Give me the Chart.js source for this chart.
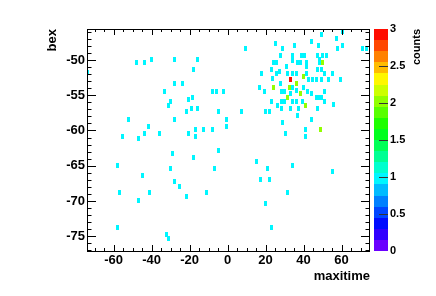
<!DOCTYPE html>
<html>
<head>
<meta charset="utf-8">
<script src="https://cdn.jsdelivr.net/npm/chart.js@4.4.1/dist/chart.umd.min.js"></script>
<style>
  html, body { margin: 0; padding: 0; background: #fff; }
  #wrap { width: 436px; height: 296px; }
</style>
</head>
<body>
<div id="wrap"><canvas id="histo" width="436" height="296"></canvas></div>
<script>
// tick labels
const xTicks = [-60, -40, -20, 0, 20, 40, 60]
const yTicks = [-75, -70, -65, -60, -55, -50]
const zTicks = [0, 0.5, 1, 1.5, 2, 2.5, 3]

// filled bins, grouped by their content (counts)
const oneX = [-47.8, -43.7, -39.8, -27.9, -15.9, -73.6, -17.7, -27.9, -23.8, -33.0,
  -7.9, -5.9, -1.9, -30.2, -30.9, -20.5, -18.6, -21.7, -18.8, -15.6,
  -4.9, -51.9, -27.9, -0.7, -41.7, -0.7, -43.7, -35.8, -20.5, -16.8,
  -12.5, -7.9, -55.1, -16.8, -46.7, -28.9, -4.9, -17.7, -57.9, -30.0,
  -6.8, -44.9, -27.9, -25.1, -56.8, -40.9, -10.9, -21.7, -46.7, -57.9,
  -31.9, -30.9, 15.1, 34.4, 21.1, 55.1, 17.2, 22.1, 31.4, 20.2,
  23.2, 30.4, 41.2, 41.2, 49.3, 57.2, 60.4, 44.2, 25.1, 35.3,
  48.1, 60.4, 9.3, 29.1, 58.1, 71.2, 73.0, 28.1, 34.4, 34.4,
  38.8, 40.5, 47.5, 50.2, 51.9, 24.2, 25.8, 36.7, 38.2, 41.4,
  41.4, 48.4, 48.4, 18.1, 23.0, 25.6, 27.4, 30.9, 31.7, 34.4,
  36.2, 41.4, 47.5, 49.3, 51.1, 55.1, 23.8, 27.9, 42.6, 44.9,
  47.0, 49.3, 53.2, 59.3, 19.5, 16.8, 28.3, 30.0, 34.2, 36.2,
  40.0, 42.3, 44.1, 51.1, 33.2, 34.4, 46.7, 48.2, 49.7, 51.1,
  23.0, 28.3, 30.0, 36.2, 39.3, 26.2, 28.6, 33.2, 37.4, 47.2,
  7.2, 20.0, 22.1, 37.0, 44.1, 29.1, 56.0]
const oneY = [-50.4, -50.3, -49.9, -49.9, -49.9, -51.8, -51.4, -53.3, -53.3, -54.4,
  -54.4, -54.4, -54.4, -55.9, -56.4, -55.6, -55.3, -57.3, -56.9, -56.9,
  -57.3, -58.4, -58.4, -58.4, -59.4, -59.4, -60.4, -60.4, -60.4, -59.9,
  -59.8, -59.8, -60.9, -60.9, -61.2, -63.3, -62.9, -63.9, -64.9, -65.4,
  -65.4, -66.4, -67.3, -67.9, -68.8, -68.8, -68.8, -69.4, -69.9, -73.8,
  -74.8, -75.3, -64.4, -64.9, -65.4, -65.8, -66.9, -66.9, -68.8, -70.3,
  -73.8, -60.4, -59.9, -60.9, -46.4, -46.9, -46.0, -47.4, -47.6, -47.9,
  -47.9, -47.9, -48.3, -48.3, -48.3, -48.3, -48.3, -49.4, -49.3, -50.0,
  -49.4, -49.4, -49.4, -49.4, -49.4, -50.4, -50.4, -50.4, -50.4, -50.4,
  -50.9, -49.9, -50.4, -51.9, -51.4, -51.9, -51.7, -50.9, -51.9, -51.9,
  -51.9, -51.9, -51.4, -51.4, -51.9, -51.9, -52.6, -53.3, -52.8, -52.8,
  -52.8, -52.8, -52.8, -52.8, -54.4, -53.9, -54.4, -54.4, -53.9, -54.3,
  -53.9, -54.4, -54.8, -54.4, -54.8, -55.9, -55.3, -55.3, -55.3, -55.9,
  -55.9, -55.9, -55.9, -55.9, -55.9, -56.4, -56.9, -56.9, -56.9, -56.9,
  -57.3, -57.3, -57.3, -57.9, -58.4, -58.9, -56.3]
const twoX = [48.9, 50.2, 36.2, 40.0, 24.2, 32.6, 38.3, 31.7, 41.1]
const twoY = [-59.9, -50.4, -53.3, -52.3, -53.9, -53.9, -54.8, -55.3, -56.4]
const threeX = [33.2]
const threeY = [-52.8]

const zMax = 3
const nBands = 20
const font = { family: "'Liberation Sans', Arial, sans-serif", weight: "bold", size: 13 }

// old ROOT rainbow palette: violet at the bottom, red at the top
function bandColor(i) {
  const hue = 265 - i * 13.8
  return `hsl(${hue}, 100%, 50%)`
}

function colorFor(v) {
  const i = Math.min(nBands - 1, Math.floor((v / zMax) * nBands))
  return bandColor(i)
}

// one bin drawn as a small filled box
function cell(v) {
  const c = document.createElement("canvas")
  c.width = 3
  c.height = 5
  const g = c.getContext("2d")
  g.fillStyle = colorFor(v)
  g.fillRect(0, 0, c.width, c.height)
  return c
}

function zip(xs, ys) {
  return xs.map((x, i) => ({ x: x, y: ys[i] }))
}

function fixTicks(list) {
  return (scale) => {
    scale.ticks = list.map((v) => ({ value: v }))
  }
}

const crisp = {
  id: "crisp",
  beforeDatasetsDraw(chart) {
    chart.ctx.imageSmoothingEnabled = false
  },
  afterDatasetsDraw(chart) {
    chart.ctx.imageSmoothingEnabled = true
  },
}

// frame with ROOT style inward ticks on all four sides
const frame = {
  id: "frame",
  afterDraw(chart) {
    const { ctx, chartArea: a, scales } = chart
    const { x, y } = scales
    ctx.save()
    ctx.strokeStyle = "#000"
    ctx.lineWidth = 1
    ctx.beginPath()
    for (let v = -70; v <= 70; v += 5) {
      const px = Math.round(x.getPixelForValue(v)) + 0.5
      const len = v % 20 === 0 ? 6 : 3
      ctx.moveTo(px, a.bottom)
      ctx.lineTo(px, a.bottom - len)
      ctx.moveTo(px, a.top)
      ctx.lineTo(px, a.top + len)
    }
    for (let v = -77; v <= -46; v++) {
      const py = Math.round(y.getPixelForValue(v)) + 0.5
      const len = v % 5 === 0 ? 9 : 4.5
      ctx.moveTo(a.left, py)
      ctx.lineTo(a.left + len, py)
      ctx.moveTo(a.right, py)
      ctx.lineTo(a.right - len, py)
    }
    ctx.stroke()
    ctx.strokeRect(a.left + 0.5, a.top + 0.5, a.right - a.left - 1, a.bottom - a.top)
    ctx.restore()
  },
}

// palette box on the right
const colorBar = {
  id: "colorBar",
  afterDraw(chart) {
    const { ctx, chartArea: a } = chart
    const z = chart.scales.z
    const x0 = a.right + 4
    const w = 14
    ctx.save()
    for (let i = 0; i < nBands; i++) {
      const lo = Math.round(z.getPixelForValue((i * zMax) / nBands))
      const hi = Math.round(z.getPixelForValue(((i + 1) * zMax) / nBands))
      ctx.fillStyle = bandColor(i)
      ctx.fillRect(x0, hi, w, lo - hi)
    }
    ctx.strokeStyle = "#333"
    ctx.beginPath()
    zTicks.forEach((v) => {
      if (v === 0 || v === zMax) return
      const py = Math.round(z.getPixelForValue(v)) + 0.5
      ctx.moveTo(x0 + w, py)
      ctx.lineTo(x0 + w - 9, py)
    })
    ctx.stroke()

    ctx.translate(417, a.top)
    ctx.rotate(-Math.PI / 2)
    ctx.textAlign = "right"
    ctx.textBaseline = "middle"
    ctx.fillStyle = "#000"
    ctx.font = "bold 11px 'Liberation Sans', Arial, sans-serif"
    ctx.fillText("counts", 0, 0)
    ctx.restore()
  },
}

new Chart(document.getElementById("histo"), {
  type: "scatter",
  data: {
    datasets: [
      { data: zip(oneX, oneY), pointStyle: cell(1), pointRadius: 2 },
      { data: zip(twoX, twoY), pointStyle: cell(2), pointRadius: 2 },
      { data: zip(threeX, threeY), pointStyle: cell(3), pointRadius: 2 },
    ],
  },
  options: {
    responsive: false,
    animation: false,
    events: [],
    layout: { padding: { top: 29, left: 0, right: 0, bottom: 0 } },
    plugins: { legend: { display: false }, tooltip: { enabled: false } },
    scales: {
      x: {
        type: "linear",
        position: "bottom",
        min: -74,
        max: 75,
        afterBuildTicks: fixTicks(xTicks),
        afterFit: (s) => { s.height = 45 },
        grid: { display: false, drawTicks: false },
        border: { display: false },
        ticks: { font: font, color: "#000", padding: 2, maxRotation: 0, autoSkip: false },
        title: {
          display: true,
          text: "maxitime",
          align: "end",
          color: "#000",
          font: font,
          padding: { top: 0, bottom: 12 },
        },
      },
      y: {
        type: "linear",
        position: "left",
        min: -77.1,
        max: -45.6,
        afterBuildTicks: fixTicks(yTicks),
        afterFit: (s) => { s.width = 87 },
        grid: { display: false, drawTicks: false },
        border: { display: false },
        ticks: { font: font, color: "#000", padding: 2, autoSkip: false },
        title: {
          display: true,
          text: "bex",
          align: "end",
          color: "#000",
          font: font,
          padding: { top: 45, bottom: 0 },
        },
      },
      z: {
        type: "linear",
        axis: "y",
        position: "right",
        min: 0,
        max: zMax,
        afterBuildTicks: fixTicks(zTicks),
        afterFit: (s) => { s.width = 66 },
        grid: { display: false, drawTicks: false },
        border: { display: false },
        ticks: {
          font: { family: font.family, weight: "bold", size: 11 },
          color: "#000",
          padding: 20,
          autoSkip: false,
          callback: (v) => String(v),
        },
      },
    },
  },
  plugins: [crisp, frame, colorBar],
})
</script>
</body>
</html>
